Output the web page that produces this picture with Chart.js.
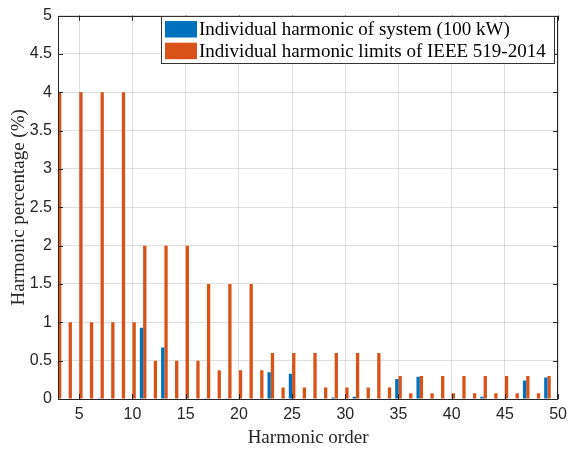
<!DOCTYPE html>
<html>
<head>
<meta charset="utf-8">
<script src="https://cdn.jsdelivr.net/npm/chart.js@4"></script>
<style>
body{margin:0;background:#fff;}
</style>
</head>
<body>
<canvas id="chart" width="573" height="452"></canvas>
<script>
// harmonic order 3..50
const orders = [3,4,5,6,7,8,9,10,11,12,13,14,15,16,17,18,19,20,21,22,23,24,25,26,
27,28,29,30,31,32,33,34,35,36,37,38,39,40,41,42,43,44,45,46,47,48,49,50];

// measured individual harmonics of the 100 kW system (%)
const systemHarm = [0,0,0,0,0.01,0,0,0,0.93,0,0.67,0,0,0,0.01,0,0.01,0,0,0,0.35,0,0.33,0,
0,0,0.02,0,0.03,0,0,0,0.26,0,0.29,0,0,0,0,0,0.03,0,0,0,0.24,0,0.28,null];

// IEEE 519-2014 individual limits (%)
const ieeeLimits = [4,1,4,1,4,1,4,1,2,0.5,2,0.5,2,0.5,1.5,0.375,1.5,0.375,1.5,0.375,0.6,0.15,0.6,0.15,
0.6,0.15,0.6,0.15,0.6,0.15,0.6,0.15,0.3,0.075,0.3,0.075,0.3,0.075,0.3,0.075,0.3,0.075,0.3,0.075,0.3,0.075,0.3,null];

const seriesNames = ["Individual harmonic of system (100 kW)","Individual harmonic limits of IEEE 519-2014"];
const yTicks = [0,0.5,1,1.5,2,2.5,3,3.5,4,4.5,5];

const axisColor = "#262626";
const gridColor = "rgba(38,38,38,0.15)";
const serif = "'Liberation Serif', 'Times New Roman', serif";
const sans = "'Liberation Sans', Arial, sans-serif";

// box, inner tick marks and the legend, drawn MATLAB style
const boxPlugin = {
id:"box",
afterDraw(chart){
const ctx = chart.ctx;
const a = chart.chartArea;
const xs = chart.scales.x, ys = chart.scales.y;
ctx.save();
ctx.strokeStyle = axisColor;
ctx.lineWidth = 1;
ctx.strokeRect(Math.round(a.left)+0.5, Math.round(a.top)+0.5,
 Math.round(a.right-a.left)-1, Math.round(a.bottom-a.top));
ctx.beginPath();
orders.forEach((o,i)=>{
if(o%5!==0) return;
let px = Math.round(xs.getPixelForTick(i))+0.5;
ctx.moveTo(px,a.bottom); ctx.lineTo(px,a.bottom-5);
ctx.moveTo(px,a.top); ctx.lineTo(px,a.top+5);
});
yTicks.forEach(v=>{
let py = Math.round(ys.getPixelForValue(v))+0.5;
ctx.moveTo(a.left,py); ctx.lineTo(a.left+5,py);
ctx.moveTo(a.right,py); ctx.lineTo(a.right-5,py);
});
ctx.stroke();

// legend
let lx = 161, ly = 16, lw = 393, lh = 47;
ctx.fillStyle = "#fff";
ctx.fillRect(lx,ly,lw,lh);
ctx.strokeStyle = "#333";
ctx.strokeRect(lx+0.5,ly+0.5,lw,lh);
ctx.font = "19px " + serif;
ctx.textBaseline = "middle";
chart.data.datasets.forEach((ds,i)=>{
let y = ly + 5 + i*21.7;
ctx.fillStyle = ds.backgroundColor;
ctx.fillRect(lx+4, y, 32, 16.5);
ctx.fillStyle = "#000";
ctx.fillText(ds.label, lx+38, y+9);
});
ctx.restore();
}
};

new Chart(document.getElementById("chart"),{
type:"bar",
data:{
labels:orders,
datasets:[{
label:seriesNames[0],
data:systemHarm,
backgroundColor:"#0072BD",
categoryPercentage:0.62,
barPercentage:1
},{
label:seriesNames[1],
data:ieeeLimits,
backgroundColor:"#D95319",
categoryPercentage:0.62,
barPercentage:1
}]
},
options:{
responsive:false,
animation:false,
layout:{padding:{top:9,right:10,left:0,bottom:0}},
plugins:{
legend:{display:false},
tooltip:{enabled:false}
},
scales:{
x:{
offset:false,
grid:{
offset:false,
drawTicks:false,
color:ctx => (ctx.index!==undefined && orders[ctx.index]%5===0) ? gridColor : "rgba(0,0,0,0)"
},
border:{display:false},
ticks:{
autoSkip:false,
maxRotation:0,
padding:6,
color:axisColor,
font:{family:sans,size:16},
callback:function(v,i){ return orders[i]%5===0 ? String(orders[i]) : ""; }
},
title:{
display:true,
text:"Harmonic order",
color:axisColor,
font:{family:serif,size:19},
padding:{top:0,bottom:3}
},
afterFit:s => { s.height = 53; }
},
y:{
min:0,
max:5,
grid:{drawTicks:false,color:gridColor},
border:{display:false},
ticks:{
stepSize:0.5,
padding:6,
color:axisColor,
font:{family:sans,size:16},
callback:v => String(v)
},
title:{
display:true,
text:"Harmonic percentage (%)",
color:axisColor,
font:{family:serif,size:19},
padding:{top:8,bottom:0}
},
afterFit:s => { s.width = 58; }
}
}
},
plugins:[boxPlugin]
});
</script>
</body>
</html>
